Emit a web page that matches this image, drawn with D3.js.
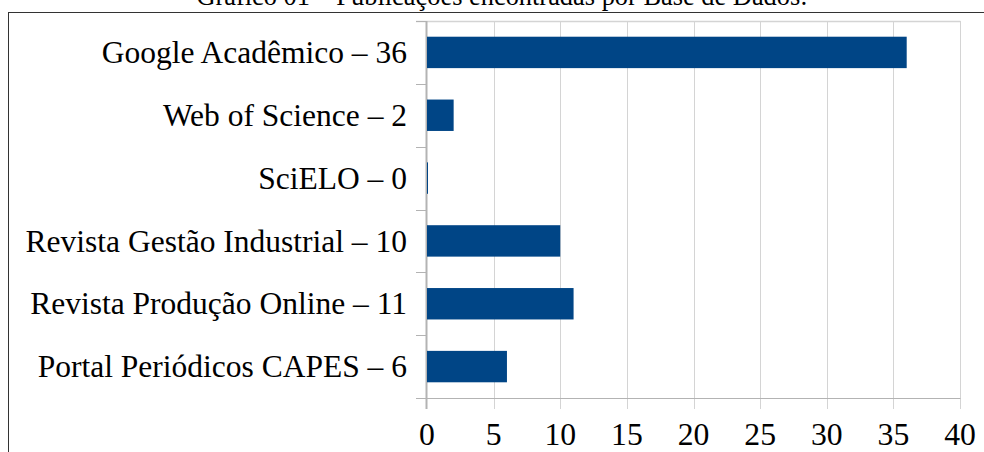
<!DOCTYPE html>
<html>
<head>
<meta charset="utf-8">
<script src="https://cdn.jsdelivr.net/npm/d3@7"></script>
<style>
  html, body { margin: 0; padding: 0; background: #fff; }
  svg { display: block; }
</style>
</head>
<body>
<svg id="chart" width="984" height="452"></svg>
<script>
const title = "Gráfico 01 – Publicações encontradas por Base de Dados:";
const categories = [
  "Google Acadêmico – 36",
  "Web of Science – 2",
  "SciELO – 0",
  "Revista Gestão Industrial – 10",
  "Revista Produção Online – 11",
  "Portal Periódicos CAPES – 6"
];
const values = [36, 2, 0, 10, 11, 6];
const xTicks = [0, 5, 10, 15, 20, 25, 30, 35, 40];

const FONT = "'Liberation Serif', 'Times New Roman', Times, 'DejaVu Serif', serif";
const svg = d3.select("#chart").attr("font-family", FONT);
const W = 984, H = 452;
const plot = { left: 427, right: 960, top: 21, bottom: 398 };
const tickLen = 11;
const gridColor = "#d4d4d4";
const axisColor = "#b3b3b3";
const barColor = "#004586";

// title (partially cut off at top, as in the reference)
svg.append("text")
  .attr("x", 502).attr("y", 5)
  .attr("text-anchor", "middle")
  .attr("font-family", FONT)
  .attr("font-size", 26.4)
  .attr("fill", "#000")
  .text(title);

// outer frame
svg.append("rect")
  .attr("x", 8.5).attr("y", 12.5)
  .attr("width", W + 20).attr("height", H + 20)
  .attr("fill", "none").attr("stroke", "#333").attr("stroke-width", 1);

const x = d3.scaleLinear().domain([0, 40]).range([plot.left, plot.right]);
const y = d3.scaleBand().domain(categories).range([plot.top, plot.bottom]).paddingInner(0.5).paddingOuter(0.25);

// vertical gridlines (extend below axis as ticks)
svg.append("g").selectAll("line").data(xTicks.slice(1)).join("line")
  .attr("x1", d => Math.round(x(d)) + 0.5).attr("x2", d => Math.round(x(d)) + 0.5)
  .attr("y1", plot.top).attr("y2", plot.bottom + tickLen)
  .attr("stroke", gridColor).attr("stroke-width", 1);

// top line
svg.append("line")
  .attr("x1", plot.left - tickLen).attr("x2", plot.right + 0.5)
  .attr("y1", plot.top + 0.5).attr("y2", plot.top + 0.5)
  .attr("stroke", gridColor).attr("stroke-width", 1.5);

// category boundary ticks
const step = y.step();
const bounds = d3.range(categories.length + 1).map(i => plot.top + i * step);
svg.append("g").selectAll("line").data(bounds).join("line")
  .attr("x1", plot.left - tickLen).attr("x2", plot.left)
  .attr("y1", d => Math.round(d) + 0.5).attr("y2", d => Math.round(d) + 0.5)
  .attr("stroke", axisColor).attr("stroke-width", 1);

// x axis line
svg.append("line")
  .attr("x1", plot.left - tickLen).attr("x2", plot.right + 0.5)
  .attr("y1", plot.bottom + 0.5).attr("y2", plot.bottom + 0.5)
  .attr("stroke", axisColor).attr("stroke-width", 1);

// y axis line (drawn under the bars)
svg.append("line")
  .attr("x1", plot.left - 0.5).attr("x2", plot.left - 0.5)
  .attr("y1", plot.top).attr("y2", plot.bottom + tickLen)
  .attr("stroke", axisColor).attr("stroke-width", 2);

// bars
svg.append("g").selectAll("rect").data(values).join("rect")
  .attr("x", x(0))
  .attr("y", (d, i) => y(categories[i]))
  .attr("width", d => Math.max(1, x(d) - x(0)))
  .attr("height", y.bandwidth())
  .attr("fill", barColor);

// category labels
svg.append("g").selectAll("text").data(categories).join("text")
  .attr("x", 407)
  .attr("y", d => y(d) + y.bandwidth() / 2)
  .attr("dy", "0.34em")
  .attr("text-anchor", "end")
  .attr("font-family", FONT)
  .attr("font-size", 31.5)
  .attr("fill", "#000")
  .text(d => d);

// x tick labels
svg.append("g").selectAll("text").data(xTicks).join("text")
  .attr("x", d => x(d))
  .attr("y", plot.bottom + 47)
  .attr("text-anchor", "middle")
  .attr("font-family", FONT)
  .attr("font-size", 31.7)
  .attr("fill", "#000")
  .text(d => d);
</script>
</body>
</html>
